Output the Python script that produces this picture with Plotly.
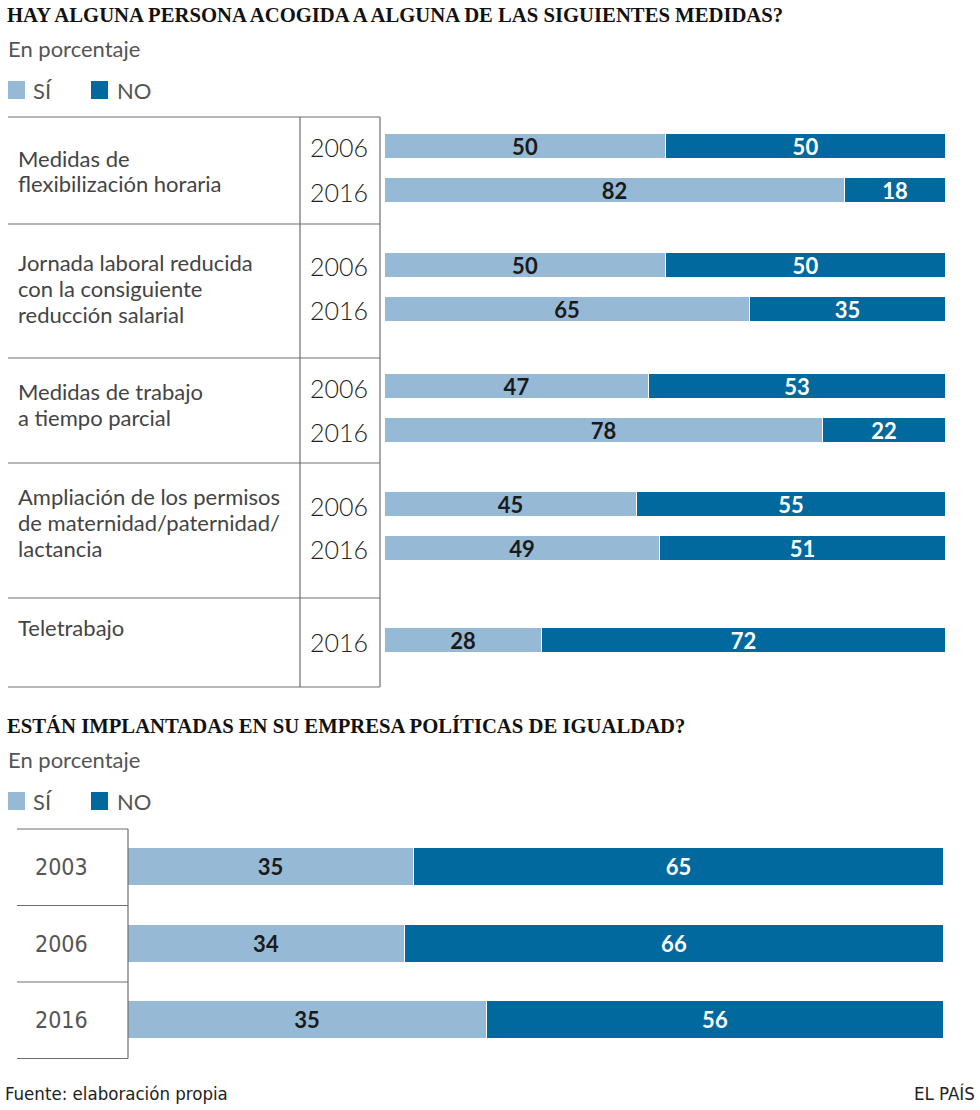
import plotly.graph_objects as go

# --- data -----------------------------------------------------------------
medidas = [
    "Medidas de<br>flexibilización horaria",
    "Jornada laboral reducida<br>con la consiguiente<br>reducción salarial",
    "Medidas de trabajo<br>a tiempo parcial",
    "Ampliación de los permisos<br>de maternidad/paternidad/<br>lactancia",
    "Teletrabajo",
]
medidas_years = [["2006", "2016"], ["2006", "2016"], ["2006", "2016"], ["2006", "2016"], ["2016"]]
medidas_si = [[50, 82], [50, 65], [47, 78], [45, 49], [28]]
medidas_no = [[50, 18], [50, 35], [53, 22], [55, 51], [72]]

igualdad_years = ["2003", "2006", "2016"]
igualdad_si = [35, 34, 44]          # bar length as drawn in the original
igualdad_si_label = ["35", "34", "35"]  # label printed in the original
igualdad_no = [65, 66, 56]

# --- style ----------------------------------------------------------------
W, H = 980, 1110
C_SI = "#96b9d5"
C_NO = "#02699f"
LINE = "#6e6e6e"
SANS = "Lato, 'Noto Sans', sans-serif"
NARROW = "'Liberation Sans Narrow', 'DejaVu Sans Condensed', sans-serif"
SERIF = "'Liberation Serif', 'DejaVu Serif', serif"

top_table_y = 117
group_h = [107, 134, 105, 135, 89]
bar_shift = [-2, -4, -2, -4, -2]
label_dy = [41, 38, 34, 33, 29]   # first text line, from group top
line_h = 26
row_gap = 44

bot_table_y = 829
bot_row_h = 76.5


def px(x):
    return x / W


def py(y):
    return 1 - y / H


# bar row positions in pixels (y axes run top -> bottom)
top_y, top_si, top_no, top_years = [], [], [], []
group_tops = []
cur = top_table_y
for g, h in enumerate(group_h):
    group_tops.append(cur)
    n = len(medidas_years[g])
    c = cur + h / 2 + bar_shift[g]
    for i in range(n):
        top_y.append(c + (i - (n - 1) / 2) * row_gap)
        top_si.append(medidas_si[g][i])
        top_no.append(medidas_no[g][i])
        top_years.append(medidas_years[g][i])
    cur += h
table_bottom = cur
bot_bottom = bot_table_y + bot_row_h * len(igualdad_years)

bot_y = [bot_table_y + bot_row_h * (i + 0.5) for i in range(len(igualdad_years))]

fig = go.Figure()
bar_font = dict(family=SANS, size=22, weight="bold")


def add_bars(vals, labels, ys, color, tcolor, width, xa, ya):
    fig.add_trace(go.Bar(
        x=vals, y=ys, orientation="h", width=width,
        marker=dict(color=color, line=dict(color="white", width=1)),
        text=labels, textposition="inside", insidetextanchor="middle", constraintext="none",
        textfont=dict(color=tcolor, **bar_font), textangle=0, xaxis=xa, yaxis=ya, hoverinfo="skip"))


add_bars(top_si, [str(v) for v in top_si], top_y, C_SI, "#1a1a1a", 25, "x", "y")
add_bars(top_no, [str(v) for v in top_no], top_y, C_NO, "white", 25, "x", "y")
add_bars(igualdad_si, igualdad_si_label, bot_y, C_SI, "#1a1a1a", 38, "x2", "y2")
add_bars(igualdad_no, [str(v) for v in igualdad_no], bot_y, C_NO, "white", 38, "x2", "y2")

shapes = []
annotations = []


def hline(x0, x1, y):
    shapes.append(dict(type="line", xref="paper", yref="paper", x0=px(x0), x1=px(x1), y0=py(y), y1=py(y),
                       line=dict(color=LINE, width=1.2)))


def vline(x, y0, y1):
    shapes.append(dict(type="line", xref="paper", yref="paper", x0=px(x), x1=px(x), y0=py(y0), y1=py(y1),
                       line=dict(color=LINE, width=1.2)))


def text(x, y, s, size, color, family=SANS, xanchor="left", yanchor="middle", weight="normal"):
    annotations.append(dict(xref="paper", yref="paper", x=px(x), y=py(y), text=s, showarrow=False,
                            xanchor=xanchor, yanchor=yanchor, align="left",
                            font=dict(family=family, size=size, color=color, weight=weight)))


def header(y0, title):
    text(5, y0, title, 20.7, "#111", family=SERIF, weight="bold")
    text(6, y0 + 33, "En porcentaje", 22, "#555")
    shapes.append(dict(type="rect", xref="paper", yref="paper", x0=px(8), x1=px(25),
                       y0=py(y0 + 84), y1=py(y0 + 66), fillcolor=C_SI, line=dict(width=0)))
    shapes.append(dict(type="rect", xref="paper", yref="paper", x0=px(91), x1=px(108),
                       y0=py(y0 + 84), y1=py(y0 + 66), fillcolor=C_NO, line=dict(width=0)))
    text(31, y0 + 75, "SÍ", 22, "#555")
    text(115, y0 + 75, "NO", 22, "#555")


header(15, "HAY ALGUNA PERSONA ACOGIDA A ALGUNA DE LAS SIGUIENTES MEDIDAS?")
header(726, "ESTÁN IMPLANTADAS EN SU EMPRESA POLÍTICAS DE IGUALDAD?")

# top table
for t in group_tops + [table_bottom]:
    hline(8, 380, t)
vline(300, top_table_y, table_bottom)
vline(380, top_table_y, table_bottom)
for g, name in enumerate(medidas):
    for k, part in enumerate(name.split("<br>")):
        text(16, group_tops[g] + label_dy[g] + k * line_h, part, 22, "#444")
for y, yr in zip(top_y, top_years):
    text(370, y + 1, yr, 25, "#222", xanchor="right", weight=300)

# bottom table
for i in range(len(igualdad_years) + 1):
    hline(17, 128, bot_table_y + bot_row_h * i)
vline(128, bot_table_y, bot_bottom)
for y, yr in zip(bot_y, igualdad_years):
    text(62, y, yr, 23, "#555", family=NARROW, xanchor="center")

# footer
text(3, 1093, "Fuente: elaboración propia", 18.5, "#222", family=NARROW)
text(977, 1093, "EL PAÍS", 18.5, "#222", family=NARROW, xanchor="right")

fig.update_layout(
    width=W, height=H, margin=dict(l=0, r=0, t=0, b=0),
    paper_bgcolor="white", plot_bgcolor="white",
    barmode="stack", showlegend=False, bargap=0,
    xaxis=dict(domain=[px(385), px(946)], range=[0, 100], visible=False, anchor="y", fixedrange=True),
    yaxis=dict(domain=[py(table_bottom), py(top_table_y)], range=[table_bottom, top_table_y],
               visible=False, anchor="x", fixedrange=True),
    xaxis2=dict(domain=[px(128), px(944)], range=[0, 100], visible=False, anchor="y2", fixedrange=True),
    yaxis2=dict(domain=[py(bot_bottom), py(bot_table_y)], range=[bot_bottom, bot_table_y],
                visible=False, anchor="x2", fixedrange=True),
    shapes=shapes, annotations=annotations,
)

fig.write_html("out.html", config={"displayModeBar": False},
               post_script="document.body.style.margin='0';")
